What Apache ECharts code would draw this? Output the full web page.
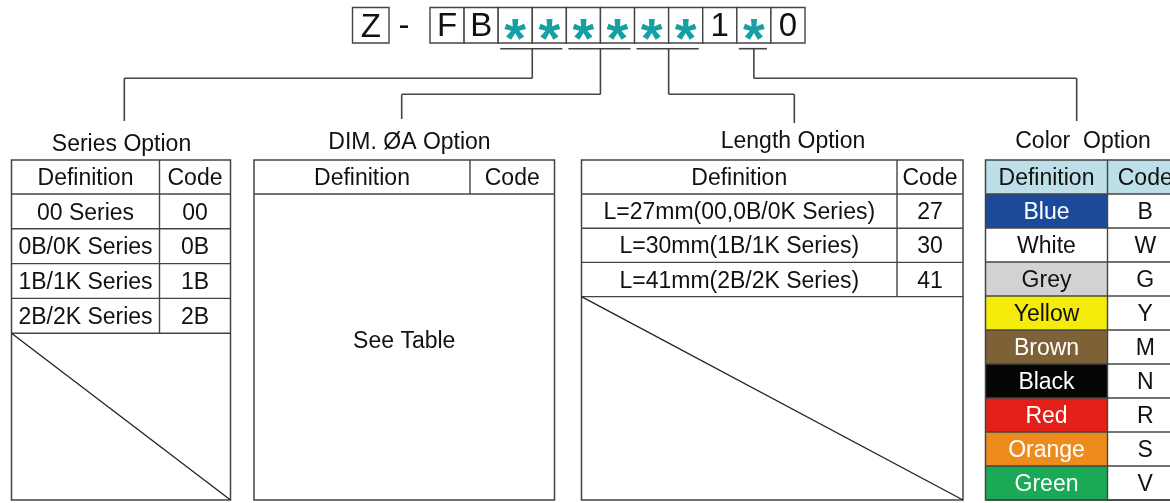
<!DOCTYPE html>
<html><head><meta charset="utf-8">
<script src="https://cdn.jsdelivr.net/npm/echarts@6/dist/echarts.min.js"></script>
<style>html,body{margin:0;padding:0;background:#fff}#c{width:1170px;height:503px}</style>
</head><body><div id="c"></div>
<script>
// ---------------- data ----------------
const prefixChars = ['Z'];
const separatorChar = '-';
const codeChars = ['F','B','*','*','*','*','*','*','1','*','0'];
const optionTitles = ['Series Option','DIM. \u00D8A Option','Length Option','Color  Option'];
const headerLabels = ['Definition','Code'];
const seriesDefs = ['00 Series','0B/0K Series','1B/1K Series','2B/2K Series'];
const seriesCodes = ['00','0B','1B','2B'];
const dimNote = 'See Table';
const lengthDefs = ['L=27mm(00,0B/0K Series)','L=30mm(1B/1K Series)','L=41mm(2B/2K Series)'];
const lengthCodes = ['27','30','41'];
const colorNames = ['Blue','White','Grey','Yellow','Brown','Black','Red','Orange','Green'];
const colorCodes = ['B','W','G','Y','M','N','R','S','V'];

// ---------------- layout & style ----------------
const LINE = '#444';
const TEXT = '#111';
const TEAL = '#16a0a3';
const FONT = '"Liberation Sans", Arial, Helvetica, sans-serif';
const cellFont = '23px ' + FONT;
const titleFont = '23px ' + FONT;
const DY = 1.8; // optical vertical centering offset
const swatch = {Blue:'#1b4a9b',White:'#ffffff',Grey:'#d2d2d2',Yellow:'#f6ec0c',Brown:'#7e6136',
  Black:'#050505',Red:'#e41f18',Orange:'#ee8b1d',Green:'#19a957'};
const lightText = {Blue:1,Brown:1,Black:1,Red:1,Orange:1,Green:1};
const headerFill = '#bcdfe8';

const box = {top: 7.5, bottom: 43, zLeft: 352.5, zRight: 389, dashX: 404, left: 430, right: 805};
const bracketY = 48.7;
const brackets = [
  {from: 2, to: 3, turnY: 78.3, dropX: 124.3, endY: 121},
  {from: 4, to: 5, turnY: 94.3, dropX: 401.7, endY: 119},
  {from: 6, to: 7, turnY: 94.3, dropX: 794.3, endY: 123},
  {from: 9, to: 9, turnY: 78.3, dropX: 1076.7, endY: 121}
];
const tableTop = 160, headBottom = 194, tableBottom = 500;
const T = {
  series: {left: 11.5, right: 230.5, split: 159.5, rowH: 34.8, titleX: 121.5, titleY: 143},
  dim:    {left: 254, right: 554.5, split: 470, titleX: 409.5, titleY: 140.5, noteY: 340},
  length: {left: 581.5, right: 963, split: 897, rowH: 34.2, titleX: 793, titleY: 139.5},
  color:  {left: 985.5, right: 1183, split: 1107.5, rowH: 34, titleX: 1083, titleY: 139.5}
};

// ---------------- element builder ----------------
function buildElements() {
  const els = [];
  const line = (x1,y1,x2,y2,w,c) => els.push({k:'line', x1,y1,x2,y2, w: w||1.4, c: c||LINE});
  const rect = (x1,y1,x2,y2,fill,stroke,w) => els.push({k:'rect', x1,y1,x2,y2, fill, stroke, w: w||1.4});
  const text = (x,y,t,font,fill,align) => els.push({k:'text', x, y: y + DY, t, font, fill: fill||TEXT, align: align||'center'});

  // code boxes
  rect(box.zLeft, box.top, box.zRight, box.bottom, '#fff', LINE, 1.4);
  text((box.zLeft+box.zRight)/2, 26, prefixChars[0], '33px ' + FONT);
  text(box.dashX, 25, separatorChar, '33px ' + FONT);
  const bw = (box.right - box.left) / codeChars.length;
  codeChars.forEach((ch, i) => {
    const x1 = box.left + i*bw, x2 = x1 + bw;
    rect(x1, box.top, x2, box.bottom, '#fff', LINE, 1.4);
    if (ch === '*') text((x1+x2)/2, 40, ch, 'bold 56px ' + FONT, TEAL);
    else text((x1+x2)/2, 25.5, ch, '33px ' + FONT);
  });
  // brackets
  brackets.forEach(b => {
    const x1 = box.left + b.from*bw + 2, x2 = box.left + (b.to+1)*bw - 4;
    const mx = box.left + (b.from + (b.to - b.from + 1)/2)*bw;
    line(x1, bracketY, x2, bracketY, 1.6);
    line(mx, bracketY, mx, b.turnY, 1.6);
    line(mx, b.turnY, b.dropX, b.turnY, 1.6);
    line(b.dropX, b.turnY, b.dropX, b.endY, 1.6);
  });

  // generic table helpers
  function header(t) {
    text((t.left+t.split)/2, (tableTop+headBottom)/2, headerLabels[0], cellFont);
    text((t.split+t.right)/2, (tableTop+headBottom)/2, headerLabels[1], cellFont);
  }
  function rows(t, defs, codes, styler) {
    defs.forEach((d, i) => {
      const y1 = headBottom + i*t.rowH, y2 = y1 + t.rowH;
      const st = styler ? styler(d) : null;
      if (st) rect(t.left, y1, t.split, y2, st.fill, null);
      text((t.left+t.split)/2, (y1+y2)/2, d, cellFont, st ? st.color : TEXT);
      text((t.split+t.right)/2, (y1+y2)/2, codes[i], cellFont);
    });
    return headBottom + defs.length*t.rowH;
  }
  function grid(t, nRows) {
    const yEnd = headBottom + nRows*t.rowH;
    line(t.split, tableTop, t.split, yEnd);
    line(t.left, headBottom, t.right, headBottom);
    for (let i = 1; i <= nRows; i++) line(t.left, headBottom + i*t.rowH, t.right, headBottom + i*t.rowH);
    rect(t.left, tableTop, t.right, tableBottom, null, LINE, 1.5);
    return yEnd;
  }

  // Series
  const s = T.series;
  text(s.titleX, s.titleY, optionTitles[0], titleFont);
  header(s);
  const sEnd = rows(s, seriesDefs, seriesCodes);
  grid(s, seriesDefs.length);
  line(s.left, sEnd, s.right, tableBottom, 1.3, '#222');

  // DIM
  const d = T.dim;
  text(d.titleX, d.titleY, optionTitles[1], titleFont);
  header(d);
  line(d.split, tableTop, d.split, headBottom);
  line(d.left, headBottom, d.right, headBottom);
  rect(d.left, tableTop, d.right, tableBottom, null, LINE, 1.5);
  text((d.left+d.right)/2, d.noteY, dimNote, cellFont);

  // Length
  const l = T.length;
  text(l.titleX, l.titleY, optionTitles[2], titleFont);
  header(l);
  const lEnd = rows(l, lengthDefs, lengthCodes);
  grid(l, lengthDefs.length);
  line(l.left, lEnd, l.right, tableBottom, 1.3, '#222');

  // Color
  const c = T.color;
  text(c.titleX, c.titleY, optionTitles[3], titleFont);
  rect(c.left, tableTop, c.right, headBottom, headerFill, null);
  header(c);
  rows(c, colorNames, colorCodes, n => ({fill: swatch[n], color: lightText[n] ? '#fff' : TEXT}));
  grid(c, colorNames.length);
  return els;
}
const elements = buildElements();

// ---------------- chart ----------------
const chart = echarts.init(document.getElementById('c'), null, {renderer: 'canvas'});
chart.setOption({
  animation: false,
  backgroundColor: '#fff',
  grid: {left: 0, right: 0, top: 0, bottom: 0},
  xAxis: {type: 'value', min: 0, max: 1170, show: false},
  yAxis: {type: 'value', min: 0, max: 503, inverse: true, show: false},
  series: [{
    type: 'custom',
    coordinateSystem: 'cartesian2d',
    clip: false,
    silent: true,
    data: [[0, 0]],
    renderItem: function (params, api) {
      const children = elements.map(e => {
        if (e.k === 'line') {
          const p1 = api.coord([e.x1, e.y1]), p2 = api.coord([e.x2, e.y2]);
          return {type: 'line', shape: {x1: p1[0], y1: p1[1], x2: p2[0], y2: p2[1]},
            style: {stroke: e.c, lineWidth: e.w}};
        }
        if (e.k === 'rect') {
          const p1 = api.coord([e.x1, e.y1]), p2 = api.coord([e.x2, e.y2]);
          return {type: 'rect', shape: {x: p1[0], y: p1[1], width: p2[0]-p1[0], height: p2[1]-p1[1]},
            style: {fill: e.fill || 'none', stroke: e.stroke || 'none', lineWidth: e.w}};
        }
        const p = api.coord([e.x, e.y]);
        return {type: 'text', x: p[0], y: p[1],
          style: {text: e.t, font: e.font, fill: e.fill, textAlign: e.align, textVerticalAlign: 'middle'}};
      });
      return {type: 'group', children};
    }
  }]
});
</script>
</body></html>
